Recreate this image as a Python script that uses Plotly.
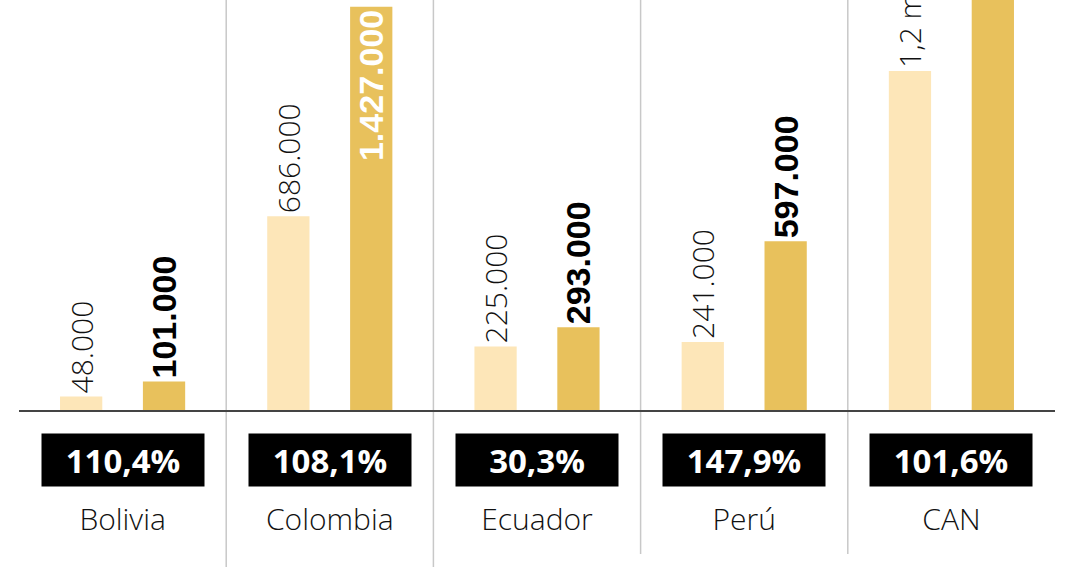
import plotly.graph_objects as go

categories = ["Bolivia", "Colombia", "Ecuador", "Perú", "CAN"]
antes = [48000, 686000, 225000, 241000, 1200000]
despues = [101000, 1427000, 293000, 597000, 2418000]
antes_labels = ["48.000", "686.000", "225.000", "241.000", "1,2 millones"]
despues_labels = ["101.000", "1.427.000", "293.000", "597.000", "2,4 millones"]
variacion = ["110,4%", "108,1%", "30,3%", "147,9%", "101,6%"]

LIGHT = "#FDE6B8"
GOLD = "#E8C15C"
FONT = "Liberation Sans"
LIGHTFONT = "Open Sans"

fig = go.Figure()
fig.add_trace(go.Bar(
    x=categories, y=antes, marker_color=LIGHT, marker_line_width=0,
    text=antes_labels, textposition="outside", textangle=-90,
    constraintext="none",
    outsidetextfont=dict(family=LIGHTFONT, size=30, color="#111111", weight=300),
    cliponaxis=True, hoverinfo="skip",
))
gold_pos = ["inside" if v > 1400000 and v < 2000000 else "outside" for v in despues]
fig.add_trace(go.Bar(
    x=categories, y=despues, marker_color=GOLD, marker_line_width=0,
    text=despues_labels, textposition=gold_pos, textangle=-90,
    insidetextanchor="end", constraintext="none",
    outsidetextfont=dict(family=FONT, size=34, color="#000000", weight="bold"),
    insidetextfont=dict(family=FONT, size=34, color="#ffffff", weight="bold"),
    cliponaxis=True, hoverinfo="skip",
))

plot_h = 410
for i, v in enumerate(variacion):
    fig.add_annotation(
        x=i, xref="x", y=(plot_h - 460) / plot_h, yref="paper",
        text=f"<b>{v}</b>", showarrow=False,
        font=dict(family="Open Sans", size=33, color="white"),
        bgcolor="black", width=162, height=52, borderpad=0,
        xanchor="center", yanchor="middle", align="center", valign="middle",
    )

bottoms = [567, 567, 554, 554]
for k, b in enumerate(bottoms):
    fig.add_shape(
        type="line", xref="x", yref="paper", x0=k + 0.5, x1=k + 0.5,
        y0=(plot_h - b) / plot_h, y1=1.0,
        line=dict(color="#c8c8c8", width=1.5), layer="below",
    )

fig.update_layout(
    width=1080, height=567,
    margin=dict(l=19, r=25, t=0, b=157),
    paper_bgcolor="white", plot_bgcolor="white",
    barmode="group", bargap=0.2, bargroupgap=0.49,
    showlegend=False,
    xaxis=dict(
        range=[-0.5, 4.5], showgrid=False, zeroline=False,
        showline=True, linecolor="#444444", linewidth=2,
        ticks="", tickfont=dict(family=LIGHTFONT, size=30, color="#111111", weight=300),
        ticklabelstandoff=82,
    ),
    yaxis=dict(range=[0, 1451000], visible=False, showgrid=False, zeroline=False),
)

fig.write_html("out.html")
